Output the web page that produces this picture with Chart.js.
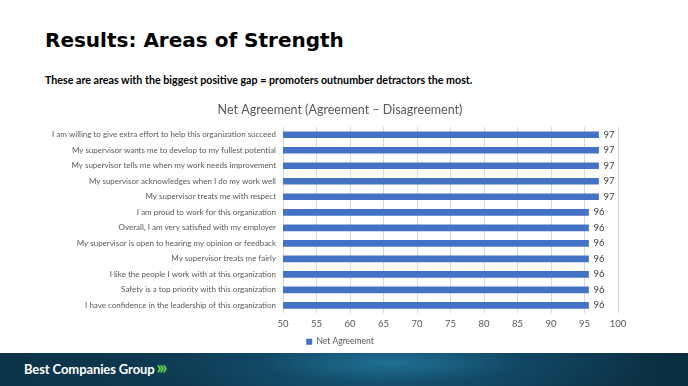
<!DOCTYPE html>
<html>
<head>
<meta charset="utf-8">
<script src="https://cdn.jsdelivr.net/npm/chart.js@4/dist/chart.umd.min.js"></script>
<style>
  body { margin: 0; width: 688px; height: 386px; background: #fff; position: relative; overflow: hidden; font-family: "Lato", sans-serif; }
  #heading { position: absolute; left: 45px; top: 28px; font-family: "DejaVu Sans", Verdana, sans-serif; font-weight: bold; font-size: 20px; color: #000; margin: 0; }
  #sub { position: absolute; left: 45px; top: 73px; font-family: "Lato", sans-serif; font-weight: bold; font-size: 10.7px; color: #000; }
  #wrap { position: absolute; left: 0; top: 95px; width: 680px; height: 261px; }
  #footer { position: absolute; left: 0; top: 353px; width: 688px; height: 33px;
    background: radial-gradient(ellipse 260px 40px at 390px 10px, #1f6f93 0%, rgba(20,80,110,0.5) 50%, rgba(10,40,60,0) 100%),
                linear-gradient(90deg, #0c3348 0%, #0e3a52 30%, #12506e 55%, #0e3a52 80%, #0a2c3f 100%); }
  #brand { position: absolute; left: 24px; top: 8px; color: #fff; font-family: "Lato", sans-serif; font-weight: bold; font-size: 13px; letter-spacing: -0.1px; }
  #brand span { color: #5fd04a; font-weight: 900; font-size: 18px; letter-spacing: -2.5px; margin-left: 2px; line-height: 13px; }
</style>
</head>
<body>
<div id="heading">Results: Areas of Strength</div>
<div id="sub">These are areas with the biggest positive gap = promoters outnumber detractors the most.</div>
<div id="wrap"><canvas id="myChart"></canvas></div>
<div id="footer"><div id="brand">Best Companies Group<span>›››</span></div></div>
<script>
// spørgsmål, øverst til nederst
var categories = [
    "I am willing to give extra effort to help this organization succeed",
    "My supervisor wants me to develop to my fullest potential",
    "My supervisor tells me when my work needs improvement",
    "My supervisor acknowledges when I do my work well",
    "My supervisor treats me with respect",
    "I am proud to work for this organization",
    "Overall, I am very satisfied with my employer",
    "My supervisor is open to hearing my opinion or feedback",
    "My supervisor treats me fairly",
    "I like the people I work with at this organization",
    "Safety is a top priority with this organization",
    "I have confidence in the leadership of this organization"
]
var netAgreement = [97.1, 97.1, 97.1, 97.1, 97.1, 95.6, 95.6, 95.6, 95.6, 95.6, 95.6, 95.6]
var xTicks = [50, 55, 60, 65, 70, 75, 80, 85, 90, 95, 100]

// tal ved enden af hver søjle
var valueLabels = {
    id: "valueLabels",
    afterDatasetsDraw(chart) {
        var ctx = chart.ctx
        var meta = chart.getDatasetMeta(0)
        ctx.save()
        ctx.font = "9.5px Lato, sans-serif"
        ctx.fillStyle = "#404040"
        ctx.textBaseline = "middle"
        meta.data.forEach(function (bar, i) {
            ctx.fillText(Math.round(netAgreement[i]), bar.x + 5, bar.y)
        })
        ctx.restore()
    }
}

var chart = new Chart(document.getElementById("myChart").getContext("2d"), {
    type: "bar",
    data: {
        labels: categories,
        datasets: [
            {
                label: "Net Agreement",
                backgroundColor: "#4472C4",
                data: netAgreement,
                barThickness: 6,
            },
        ],
    },
    options: {
        indexAxis: "y",
        responsive: true,
        maintainAspectRatio: false,
        animation: false,
        layout: { padding: 0 },
        scales: {
            x: {
                min: 50,
                max: 100,
                afterBuildTicks: function (scale) {
                    scale.ticks = xTicks.map(function (v) { return { value: v } })
                },
                grid: { color: "#d9d9d9", drawTicks: false },
                border: { display: false },
                ticks: { color: "#595959", font: { size: 9.5, family: "Lato, sans-serif" }, padding: 5 },
            },
            y: {
                grid: { display: false, drawTicks: false },
                border: { display: false },
                afterFit: function (scale) { scale.width = 283 },
                ticks: { color: "#595959", font: { size: 8, family: "Lato, sans-serif" }, padding: 7, autoSkip: false },
            },
            // tom akse til højre, så plotområdet slutter ved 100
            yRight: {
                position: "right",
                display: true,
                grid: { display: false, drawTicks: false },
                border: { display: false },
                ticks: { display: false },
                afterFit: function (scale) { scale.width = 62 },
            },
        },
        plugins: {
            title: {
                display: true,
                text: "Net Agreement (Agreement – Disagreement)",
                color: "#595959",
                font: { size: 12.5, weight: "normal", family: "Lato, sans-serif" },
                padding: { top: 7, bottom: 10 },
            },
            legend: {
                position: "bottom",
                labels: { color: "#595959", boxWidth: 6, boxHeight: 6, font: { size: 8.5, family: "Lato, sans-serif" }, padding: 3 },
            },
            tooltip: { enabled: false },
        },
    },
    plugins: [valueLabels],
});
</script>
</body>
</html>
